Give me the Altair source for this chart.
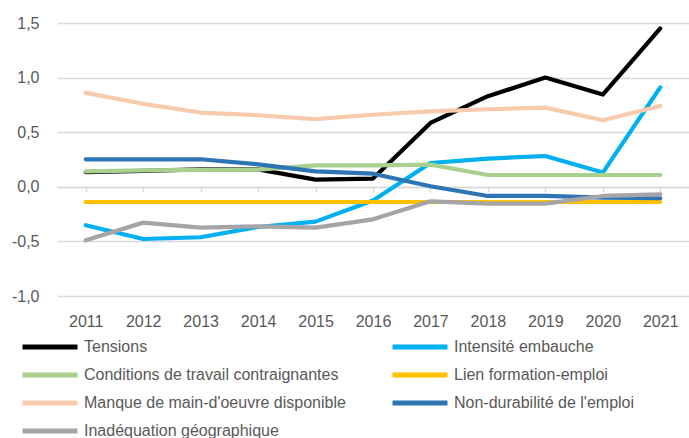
import altair as alt
import pandas as pd

years = [2011, 2012, 2013, 2014, 2015, 2016, 2017, 2018, 2019, 2020, 2021]

series_names = [
    "Tensions",
    "Intensité embauche",
    "Conditions de travail contraignantes",
    "Lien formation-emploi",
    "Manque de main-d'oeuvre disponible",
    "Non-durabilité de l'emploi",
    "Inadéquation géographique",
]
series_colors = ["#000000", "#00B0F0", "#A9D18E", "#FFC000", "#F8CBAD", "#2E75B6", "#A5A5A5"]

tensions = [0.135, 0.145, 0.16, 0.16, 0.066, 0.075, 0.585, 0.83, 1.0, 0.845, 1.45]
intensite = [-0.352, -0.478, -0.462, -0.368, -0.319, -0.125, 0.218, 0.258, 0.282, 0.13, 0.91]
conditions = [0.142, 0.15, 0.155, 0.158, 0.197, 0.197, 0.203, 0.108, 0.108, 0.108, 0.108]
lien = [-0.139, -0.139, -0.139, -0.139, -0.139, -0.139, -0.139, -0.139, -0.139, -0.139, -0.139]
manque = [0.86, 0.76, 0.68, 0.655, 0.62, 0.66, 0.69, 0.71, 0.725, 0.61, 0.74]
non_durabilite = [0.252, 0.252, 0.252, 0.206, 0.142, 0.12, 0.005, -0.084, -0.084, -0.1, -0.105]
inadequation = [-0.49, -0.328, -0.374, -0.362, -0.374, -0.298, -0.133, -0.154, -0.154, -0.084, -0.069]

all_values = [tensions, intensite, conditions, lien, manque, non_durabilite, inadequation]

rows = []
for name, vals in zip(series_names, all_values):
    for y, v in zip(years, vals):
        rows.append({"Année": str(y), "Série": name, "Valeur": v})
df = pd.DataFrame(rows)

# Vega fills legend columns top-to-bottom; reorder so rows read as in the reference
legend_order = [0, 2, 4, 6, 1, 3, 5]
legend_names = [series_names[i] for i in legend_order]
legend_colors = [series_colors[i] for i in legend_order]

FONT = "Liberation Sans, Arial, sans-serif"
GRID = "#D9D9D9"
TXT = "#595959"

x_sort = [str(y) for y in years]
x_scale = alt.Scale(paddingInner=0, paddingOuter=0)
y_scale = alt.Scale(domain=[-1.0, 1.5], nice=False, zero=False)

label_expr = "replace(replace(format(datum.value, '.1f'), '.', ','), '\u2212', '-')"

y_axis = alt.Axis(title=None, values=[-1.0, -0.5, 0.0, 0.5, 1.0, 1.5], labelExpr=label_expr,
                  domain=False, ticks=False, grid=True, gridColor=GRID, gridWidth=1.4,
                  labelPadding=18, labelFontSize=16, labelColor=TXT, labelFont=FONT)

zero_axis = alt.Chart(df).mark_point(opacity=0).encode(
    x=alt.X("Année:N", scale=x_scale, sort=x_sort,
            axis=alt.Axis(title=None, orient="bottom", offset=-109, labels=False, grid=False,
                          domain=True, domainColor=GRID, domainWidth=1.4,
                          ticks=True, tickColor=GRID, tickWidth=1.4, tickSize=5, bandPosition=0)),
    y=alt.Y("Valeur:Q", scale=y_scale, axis=y_axis),
)

lines = alt.Chart(df).mark_line(strokeWidth=4.2, strokeCap="round", strokeJoin="round").encode(
    x=alt.X("Année:N", scale=x_scale, sort=x_sort,
            axis=alt.Axis(title=None, orient="bottom", domain=False, ticks=False, grid=False,
                          labelAngle=0, labelPadding=17, labelFontSize=16, labelColor=TXT,
                          labelFont=FONT)),
    y=alt.Y("Valeur:Q", scale=y_scale, axis=y_axis),
    color=alt.Color("Série:N",
                    scale=alt.Scale(domain=legend_names, range=legend_colors),
                    legend=alt.Legend(title=None, orient="none", legendX=-37, legendY=316,
                                      columns=2, columnPadding=44, rowPadding=12, clipHeight=16,
                                      symbolType="stroke", symbolSize=3025, symbolStrokeWidth=5,
                                      labelOffset=4, labelFontSize=16, labelColor=TXT,
                                      labelFont=FONT, labelLimit=400, padding=0)),
    order=alt.Order("Année:N"),
)

chart = alt.layer(zero_axis, lines).resolve_axis(x="independent").properties(
    width=632, height=273,
    autosize=alt.AutoSizeParams(type="none"),
    padding={"left": 57, "top": 23, "right": 0, "bottom": 142},
).configure(font=FONT).configure_view(stroke=None)

chart.save("out.html", embed_options={"renderer": "svg", "actions": False})
